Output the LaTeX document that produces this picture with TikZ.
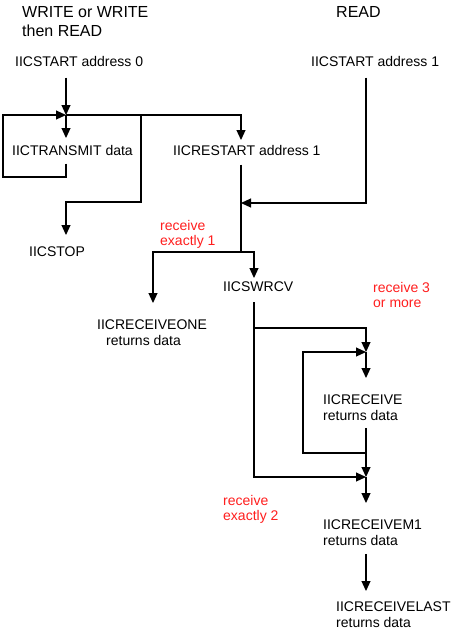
\documentclass[tikz,border=0pt]{standalone}
\usepackage{fontspec}
\setmainfont{Liberation Sans}
\usetikzlibrary{arrows.meta,calc}
\definecolor{lblred}{RGB}{255,30,30}
\begin{document}
\begin{tikzpicture}[x=1pt,y=-1pt,
  txt/.style={anchor=north west,inner sep=0pt,align=left,font=\fontsize{14}{15.5}\selectfont},
  ttl/.style={anchor=north west,inner sep=0pt,align=left,font=\fontsize{16}{19}\selectfont},
  redlbl/.style={txt,text=lblred},
  ln/.style={line width=1.1pt},
  arr/.style={ln,-{Triangle[length=10pt,width=9pt]}}]
\useasboundingbox (0,0) rectangle (463,633);
% texts
\node[ttl] (title) at (22,6.5) {WRITE or WRITE\\then READ};
\node[ttl] (read) at (336,6.5) {READ};
\node[txt] (s0) at (15,56) {IICSTART address 0};
\node[txt] (s1) at (311,56) {IICSTART address 1};
\node[txt] (tx) at (12,145) {IICTRANSMIT data};
\node[txt] (rs) at (173,145) {IICRESTART address 1};
\node[txt] (stop) at (29,247) {IICSTOP};
\node[redlbl] (red1) at (160,220) {receive\\exactly 1};
\node[txt] (swrcv) at (223,282) {IICSWRCV};
\node[txt] (one) at (97,320) {IICRECEIVEONE\\\hspace*{9pt}returns data};
\node[redlbl] (red3) at (373,282) {receive 3\\or more};
\node[txt] (rcv) at (323,395) {IICRECEIVE\\returns data};
\node[redlbl] (red2) at (223,495) {receive\\exactly 2};
\node[txt] (m1) at (323,520) {IICRECEIVEM1\\returns data};
\node[txt] (last) at (336,602) {IICRECEIVELAST\\returns data};
% junctions
\coordinate (J1) at (66,115);
\coordinate (J2) at (141,115);
\coordinate (J3) at (241,115);
\coordinate (J4) at (241,203);
\coordinate (J5) at (241,252);
\coordinate (J6) at (153,252);
\coordinate (J7) at (254,252);
\coordinate (J8) at (141,202);
\coordinate (J9) at (66,202);
\coordinate (L1) at (66,177);
\coordinate (L2) at (3,177);
\coordinate (L3) at (3,115);
\coordinate (S1c) at (366,203);
\coordinate (K1) at (254,328);
\coordinate (K2) at (366,328);
\coordinate (K3) at (366,352);
\coordinate (K4) at (303,352);
\coordinate (K5) at (303,453);
\coordinate (K6) at (366,453);
\coordinate (K7) at (254,477);
\coordinate (K8) at (366,477);
% connectors
\draw[arr] ($(s0.south -| J1)+(0,11)$) -- (J1);
\draw[arr] ($(tx.south -| L1)+(0,8)$) -- (L1) -- (L2) -- (L3) -- (J1);
\draw[arr] (J1) -- ($(tx.north -| J1)+(0,-7)$);
\draw[arr] (J1) -- (J3) -- ($(rs.north -| J3)+(0,-5)$);
\draw[arr] (J2) -- (J8) -- (J9) -- ($(stop.north -| J9)+(0,-12)$);
\draw[ln] ($(rs.south -| J3)+(0,9)$) -- (J5);
\draw[arr] ($(s1.south -| S1c)+(0,11)$) -- (S1c) -- (J4);
\draw[arr] (J5) -- (J6) -- ($(one.north -| J6)+(0,-17)$);
\draw[arr] (J5) -- (J7) -- ($(swrcv.north -| J7)+(0,-4)$);
\draw[arr] ($(swrcv.south -| K1)+(0,10)$) -- (K7) -- (K8);
\draw[arr] (K1) -- (K2) -- (K3);
\draw[arr] ($(rcv.south -| K6)+(0,7)$) -- (K8);
\draw[arr] (K6) -- (K5) -- (K4) -- (K3);
\draw[arr] (K3) -- ($(rcv.north -| K3)+(0,-17)$);
\draw[arr] (K8) -- ($(m1.north -| K8)+(0,-17)$);
\draw[arr] ($(m1.south -| K8)+(0,8)$) -- ($(last.north -| K8)+(0,-11)$);
\end{tikzpicture}
\end{document}
